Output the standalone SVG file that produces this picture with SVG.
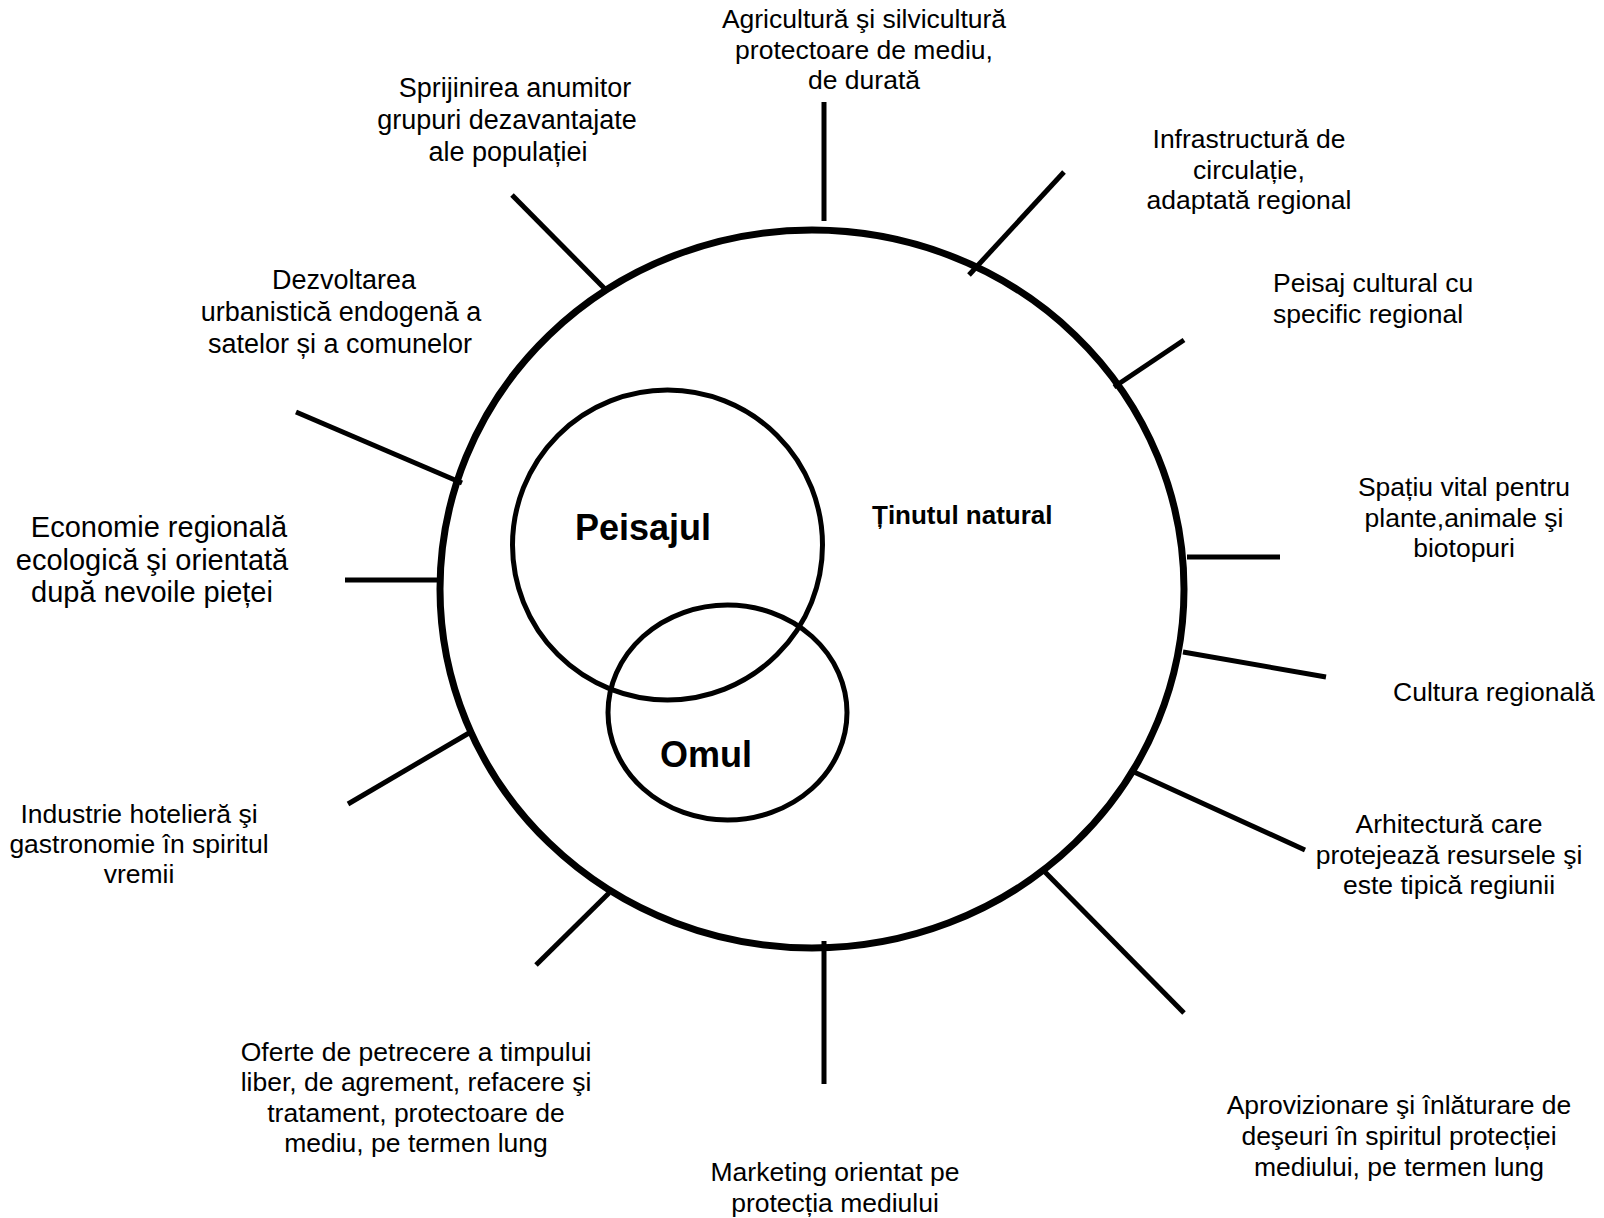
<svg xmlns="http://www.w3.org/2000/svg" width="1604" height="1218" viewBox="0 0 1604 1218">
<style>
.lbl{font-family:"Liberation Sans",Arial,sans-serif;font-size:26.5px;fill:#000;text-anchor:middle}
.lbs{font-family:"Liberation Sans",Arial,sans-serif;font-size:26.5px;fill:#000;text-anchor:start}
.big{font-size:29px}
.mid{font-size:27px}
.bold{font-family:"Liberation Sans",Arial,sans-serif;font-weight:bold;fill:#000}
.tick{stroke:#000;stroke-width:5;fill:none}
.ring{fill:none;stroke:#000}
</style>
<rect width="1604" height="1218" fill="#fff"/>
<g id="tinutul-natural">
<ellipse class="ring" cx="812" cy="589" rx="372" ry="359" stroke-width="7"/>
<text class="bold" x="872" y="524" font-size="26">Ținutul natural</text>
</g>
<g id="peisajul">
<ellipse class="ring" cx="667.5" cy="545" rx="155" ry="155" stroke-width="5"/>
<text class="bold" x="643" y="540" font-size="36" text-anchor="middle">Peisajul</text>
</g>
<g id="omul">
<ellipse class="ring" cx="727.5" cy="712.5" rx="119.5" ry="107.5" stroke-width="5"/>
<text class="bold" x="706" y="767" font-size="36" text-anchor="middle">Omul</text>
</g>
<g id="connectors">
<line class="tick" x1="824" y1="102" x2="824" y2="221"/>
<line class="tick" x1="1064" y1="172" x2="969" y2="275"/>
<line class="tick" x1="1184" y1="340" x2="1114" y2="387"/>
<line class="tick" x1="1187" y1="557" x2="1280" y2="557"/>
<line class="tick" x1="1183" y1="652" x2="1326" y2="677"/>
<line class="tick" x1="1134" y1="772" x2="1305" y2="850"/>
<line class="tick" x1="1043" y1="870" x2="1184" y2="1013"/>
<line class="tick" x1="824" y1="941" x2="824" y2="1084"/>
<line class="tick" x1="609" y1="893" x2="536" y2="965"/>
<line class="tick" x1="469" y1="733" x2="348" y2="804"/>
<line class="tick" x1="345" y1="580" x2="440" y2="580"/>
<line class="tick" x1="296" y1="412" x2="462" y2="483"/>
<line class="tick" x1="512" y1="195" x2="605" y2="289"/>
</g>
<g id="agricultura">
<text class="lbl" x="864" y="28">Agricultură şi silvicultură</text>
<text class="lbl" x="864" y="59">protectoare de mediu,</text>
<text class="lbl" x="864" y="89">de durată</text>
</g>
<g id="infrastructura">
<text class="lbl" x="1249" y="148">Infrastructură de</text>
<text class="lbl" x="1249" y="179">circulație,</text>
<text class="lbl" x="1249" y="209">adaptată regional</text>
</g>
<g id="peisaj-cultural">
<text class="lbs" x="1273" y="292">Peisaj cultural cu</text>
<text class="lbs" x="1273" y="323">specific regional</text>
</g>
<g id="spatiu-vital">
<text class="lbl" x="1464" y="496">Spațiu vital pentru</text>
<text class="lbl" x="1464" y="527">plante,animale şi</text>
<text class="lbl" x="1464" y="557">biotopuri</text>
</g>
<g id="cultura">
<text class="lbs" x="1393" y="701">Cultura regională</text>
</g>
<g id="arhitectura">
<text class="lbl" x="1449" y="833">Arhitectură care</text>
<text class="lbl" x="1449" y="864">protejează resursele şi</text>
<text class="lbl" x="1449" y="894">este tipică regiunii</text>
</g>
<g id="aprovizionare">
<text class="lbl" x="1399" y="1114">Aprovizionare şi înlăturare de</text>
<text class="lbl" x="1399" y="1145">deşeuri în spiritul protecției</text>
<text class="lbl" x="1399" y="1176">mediului, pe termen lung</text>
</g>
<g id="marketing">
<text class="lbl" x="835" y="1181">Marketing orientat pe</text>
<text class="lbl" x="835" y="1212">protecția mediului</text>
</g>
<g id="oferte">
<text class="lbl" x="416" y="1061">Oferte de petrecere a timpului</text>
<text class="lbl" x="416" y="1091">liber, de agrement, refacere şi</text>
<text class="lbl" x="416" y="1122">tratament, protectoare de</text>
<text class="lbl" x="416" y="1152">mediu, pe termen lung</text>
</g>
<g id="industrie">
<text class="lbl" x="139" y="823">Industrie hotelieră şi</text>
<text class="lbl" x="139" y="853">gastronomie în spiritul</text>
<text class="lbl" x="139" y="883">vremii</text>
</g>
<g id="economie">
<text class="lbl big" x="159" y="537">Economie regională</text>
<text class="lbl big" x="152" y="570">ecologică şi orientată</text>
<text class="lbl big" x="152" y="602">după nevoile pieței</text>
</g>
<g id="dezvoltarea">
<text class="lbl mid" x="344" y="289">Dezvoltarea</text>
<text class="lbl mid" x="341" y="321">urbanistică endogenă a</text>
<text class="lbl mid" x="340" y="353">satelor și a comunelor</text>
</g>
<g id="sprijinirea">
<text class="lbl mid" x="515" y="97">Sprijinirea anumitor</text>
<text class="lbl mid" x="507" y="129">grupuri dezavantajate</text>
<text class="lbl mid" x="508" y="161">ale populației</text>
</g>
</svg>
